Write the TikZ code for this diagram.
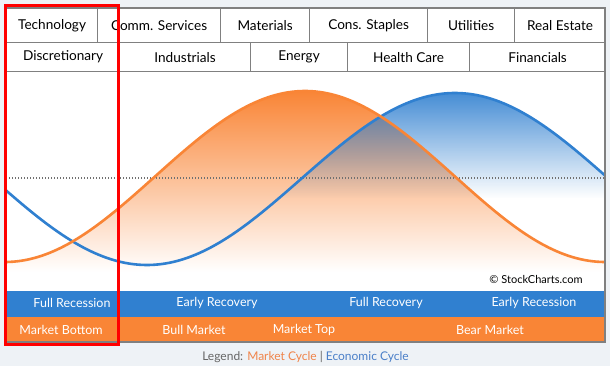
\documentclass[tikz,border=0pt]{standalone}
\usepackage{fontspec}
\setmainfont{Lato}
\usetikzlibrary{fadings}
\definecolor{bgc}{HTML}{EEF2F6}
\definecolor{cellgray}{HTML}{808080}
\definecolor{orng}{HTML}{F98536}
\definecolor{blu}{HTML}{3080D0}
\definecolor{legor}{HTML}{F0844A}
\definecolor{legbl}{HTML}{4A7FC8}
\definecolor{leggray}{HTML}{666666}
\definecolor{dotgray}{HTML}{707070}
\tikzfading[name=fadeblue, top color=transparent!0, bottom color=transparent!100]
\tikzset{
  cell/.style={draw=cellgray, line width=1.2pt, fill=white, inner sep=0pt, anchor=north west,
    font=\fontsize{13.6}{15}\selectfont, text=black},
  bartext/.style={text=white, font=\fontsize{12.5}{14}\selectfont, inner sep=0pt},
  curve/.style={line width=2.6pt, smooth},
}
\begin{document}
\begin{tikzpicture}[x=1pt,y=-1pt]
\useasboundingbox (0,0) rectangle (610,366);
\fill[bgc] (0,0) rectangle (610,366);
% main white panel
\fill[white] (6,8) rectangle (605,342);
% chart fills
\begin{scope}
  \clip (6,71) rectangle (605,291);
  \begin{scope}
    \clip plot[domain=6:605, samples=150, smooth] (\x,{176.5+85.5*cos((\x-5)*0.6)}) -- (605,291) -- (6,291) -- cycle;
    \shade[top color=orng, bottom color=white] (6,91) rectangle (605,272);
  \end{scope}
  \begin{scope}
    \clip plot[domain=6:605, samples=150, smooth] (\x,{179+86*cos((\x-147)*0.5844)}) -- (605,291) -- (6,291) -- cycle;
    \fill[blu, path fading=fadeblue, fill opacity=0.9] (6,92) rectangle (605,198);
  \end{scope}
  \draw[dotgray, line width=1.2pt, dash pattern=on 1.3pt off 1.7pt] (6,178) -- (605,178);
  \draw[blu, curve] plot[domain=6:605, samples=150] (\x,{179+86*cos((\x-147)*0.5844)});
  \draw[orng, curve] plot[domain=6:605, samples=150] (\x,{176.5+85.5*cos((\x-5)*0.6)});
\end{scope}
\node[font=\fontsize{11}{13}\selectfont, text=black, inner sep=0pt] (copy) at (536,279) {© StockCharts.com};
% sector cells row 1
\node[cell, minimum width=91pt, minimum height=34pt] (tech) at (6,8) {Technology};
\node[cell, minimum width=123pt, minimum height=34pt] (comm) at (97,8) {Comm. Services};
\node[cell, minimum width=89pt, minimum height=34pt] (mat) at (220,8) {Materials};
\node[cell, minimum width=118pt, minimum height=34pt] (cons) at (309,8) {Cons. Staples};
\node[cell, minimum width=87pt, minimum height=34pt] (util) at (427,8) {Utilities};
\node[cell, minimum width=91pt, minimum height=34pt] (real) at (514,8) {Real Estate};
% row 2
\node[cell, minimum width=113pt, minimum height=29pt] (disc) at (6,42) {Discretionary};
\node[cell, minimum width=131pt, minimum height=29pt] (ind) at (119,42) {Industrials};
\node[cell, minimum width=97pt, minimum height=29pt] (ener) at (250,42) {Energy};
\node[cell, minimum width=122pt, minimum height=29pt] (hc) at (347,42) {Health Care};
\node[cell, minimum width=136pt, minimum height=29pt, text depth=-2pt] (fin) at (469,42) {Financials};
% bars
\fill[blu] (6,291) rectangle (605,317);
\fill[orng] (6,317) rectangle (605,342);
\node[bartext] (fr) at (72,303) {Full Recession};
\node[bartext] (er) at (217,303) {Early Recovery};
\node[bartext] (fre) at (386,303) {Full Recovery};
\node[bartext] (ere) at (534,303) {Early Recession};
\node[bartext] (mb) at (61,330) {Market Bottom};
\node[bartext] (bm) at (194,330) {Bull Market};
\node[bartext] (mt) at (304,330) {Market Top};
\node[bartext] (bem) at (490,330) {Bear Market};
% panel border
\draw[cellgray, line width=1.4pt] (6,8) rectangle (605,342);
% legend
\node[font=\fontsize{12}{14}\selectfont, inner sep=0pt] (leg) at (305.5,357)
  {\textcolor{leggray}{Legend:} \textcolor{legor}{Market Cycle} \textcolor{leggray}{|} \textcolor{legbl}{Economic Cycle}};
% red highlight
\draw[red, line width=3pt] (5,5.5) rectangle (118.3,344.7);
\end{tikzpicture}
\end{document}
